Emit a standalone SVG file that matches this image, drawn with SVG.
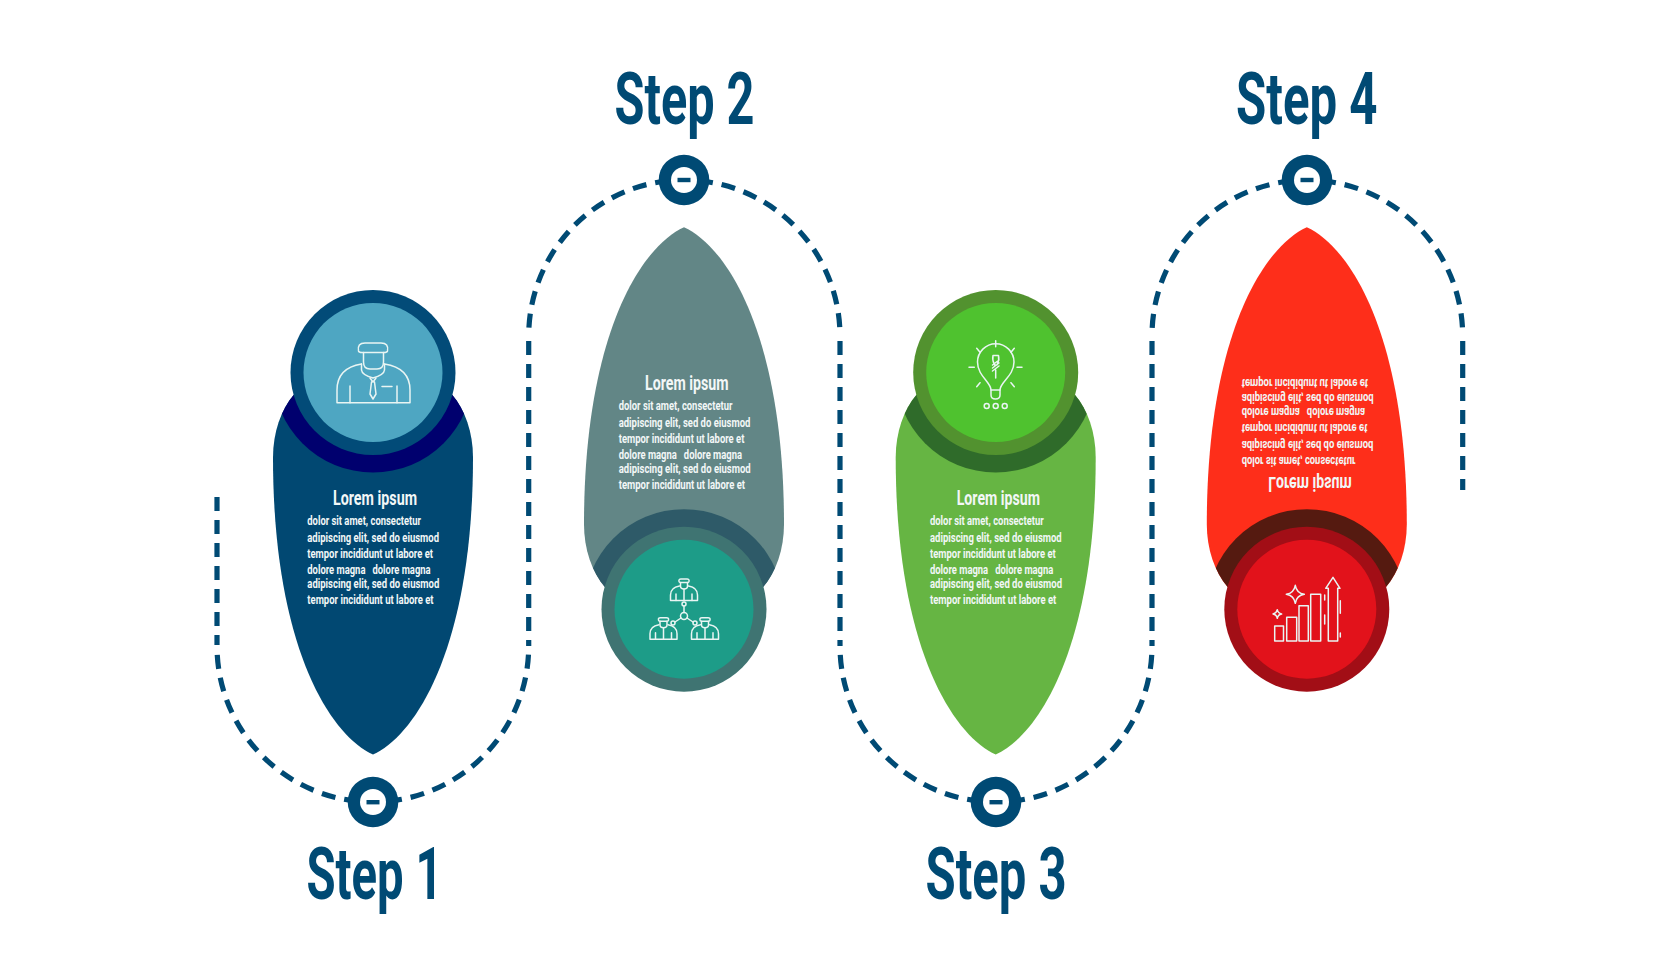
<svg xmlns="http://www.w3.org/2000/svg" width="1680" height="980" viewBox="0 0 1680 980">
<style>
text{font-family:Roboto,"Liberation Sans",sans-serif;font-weight:700}
.step{font-size:72px;fill:#004a74;text-anchor:start}
.t{font-size:21px;fill:#f2f7f7}
.b{font-size:13.5px;fill:#f2f7f7}
.dash{fill:none;stroke:#004a74;stroke-width:5.2;stroke-dasharray:14 9}
.from{stroke-dashoffset:-15}
.dot{fill:#004a74}
.hole{fill:#fff}
.ic{fill:none;stroke:#e9f5f3;stroke-width:1.5;stroke-linecap:round;stroke-linejoin:round}
</style>
<defs>
<path id="blade" d="M0,-382 C-44,-362 -100,-272 -100,-85 C-100,-60 -92,-37 -79,-22 L79,-22 C92,-37 100,-60 100,-85 C100,-272 44,-362 0,-382Z"/>
<clipPath id="bc"><use href="#blade"/></clipPath>
<g id="mini" class="ic">
<path d="M-5,2.5 Q-5.5,0 -3,0 H3 Q5.5,0 5,2.5 Q5,3.5 3,3.5 H-3 Q-5,3.5 -5,2.5Z"/>
<path d="M-3.5,3.5 V7 Q-3.5,10 0,10 Q3.5,10 3.5,7 V3.5"/>
<path d="M-4.5,7 Q-13.5,8.5 -13.5,16 V21.5 H13.5 V16 Q13.5,8.5 4.5,7"/>
<path d="M-8,15 V21.5 M8,15 V21.5 M0,10 V21.5"/>
</g>
</defs>
<rect width="1680" height="980" fill="#fff"/>

<g id="connectors">
<path class="dash from" d="M373,802 A156,156 0 0 1 217,646"/>
<path class="dash" d="M217,497 V645"/>
<path class="dash from" d="M373,802 A155.7,155.7 0 0 0 528.7,646"/>
<path class="dash" d="M528.7,341 V646"/>
<path class="dash from" d="M684,180 A155.3,156 0 0 0 528.7,336"/>
<path class="dash from" d="M684,180 A156,156 0 0 1 840,336"/>
<path class="dash" d="M840,341 V646"/>
<path class="dash from" d="M996,802 A156,156 0 0 1 840,646"/>
<path class="dash from" d="M996,802 A156,156 0 0 0 1152,646"/>
<path class="dash" d="M1152,341 V646"/>
<path class="dash from" d="M1307,180 A155,156 0 0 0 1152,336"/>
<path class="dash from" d="M1307,180 A155.7,156 0 0 1 1462.7,336"/>
<path class="dash" d="M1462.7,341 V490"/>
</g>

<g id="node1">
<use href="#blade" transform="translate(373,372.5) scale(1,-1)" fill="#014872"/>
<g transform="translate(373,372.5) scale(1,-1)"><circle r="100" fill="#00006e" clip-path="url(#bc)"/></g>
<circle cx="373" cy="372.5" r="82.5" fill="#024b78"/>
<circle cx="373" cy="372.5" r="69.5" fill="#4ea6c2"/>
<g class="ic">
<path d="M358.5,351 Q357,343 365,343 H381 Q389,343 387.5,351 Q387,352.5 384,352.5 H362 Q359,352.5 358.5,351Z"/>
<path d="M363.5,352.5 V362 Q363.5,369 370,369 H377 Q383.5,369 383.5,362 V352.5"/>
<path d="M361.5,364 V370 Q362,375 373,378 Q384,375 384.5,370 V364"/>
<path d="M361.5,364 Q337,368 337,390 V402.7 H410 V390 Q410,368 384.5,364"/>
<path d="M350,386 V402.7 M397,386 V402.7 M382,386.5 H392"/>
<path d="M370,378 L373,382 L376,378 M371.5,382 L370,394 L373,399 L376,394 L374.5,382"/>
</g>
<text class="t" x="333" y="505" textLength="84" lengthAdjust="spacingAndGlyphs">Lorem ipsum</text>
<text class="b" x="307.3" y="525" textLength="113.7" lengthAdjust="spacingAndGlyphs">dolor sit amet, consectetur</text>
<text class="b" x="307.3" y="541.7" textLength="131.7" lengthAdjust="spacingAndGlyphs">adipiscing elit, sed do eiusmod</text>
<text class="b" x="307.3" y="558.3" textLength="125.7" lengthAdjust="spacingAndGlyphs">tempor incididunt ut labore et</text>
<text class="b" x="307.3" y="574.3" textLength="123.3" lengthAdjust="spacingAndGlyphs" xml:space="preserve">dolore magna   dolore magna</text>
<text class="b" x="307.3" y="587.7" textLength="132" lengthAdjust="spacingAndGlyphs">adipiscing elit, sed do eiusmod</text>
<text class="b" x="307.3" y="604.3" textLength="126.3" lengthAdjust="spacingAndGlyphs">tempor incididunt ut labore et</text>
</g>

<g id="node2">
<use href="#blade" transform="translate(684,609.2)" fill="#628686"/>
<g transform="translate(684,609.2)"><circle r="100" fill="#2e5a68" clip-path="url(#bc)"/></g>
<circle cx="684" cy="609.2" r="82.5" fill="#3f7472"/>
<circle cx="684" cy="609.2" r="69.5" fill="#1d9c88"/>
<use href="#mini" x="684" y="579"/>
<use href="#mini" x="663.5" y="617.7"/>
<use href="#mini" x="705" y="617.7"/>
<g class="ic">
<circle cx="684" cy="616" r="3.5"/><circle cx="684" cy="604" r="2"/><circle cx="673" cy="623" r="2"/><circle cx="695" cy="623" r="2"/>
<path d="M684,606 V612.5 M675,622 L681,618 M693,622 L687,618"/>
</g>
<text class="t" x="645" y="390" textLength="83.5" lengthAdjust="spacingAndGlyphs">Lorem ipsum</text>
<text class="b" x="618.7" y="410" textLength="113.7" lengthAdjust="spacingAndGlyphs">dolor sit amet, consectetur</text>
<text class="b" x="618.7" y="426.7" textLength="131.7" lengthAdjust="spacingAndGlyphs">adipiscing elit, sed do eiusmod</text>
<text class="b" x="618.7" y="442.7" textLength="125.7" lengthAdjust="spacingAndGlyphs">tempor incididunt ut labore et</text>
<text class="b" x="618.7" y="459.3" textLength="123.3" lengthAdjust="spacingAndGlyphs" xml:space="preserve">dolore magna   dolore magna</text>
<text class="b" x="618.7" y="472.7" textLength="132" lengthAdjust="spacingAndGlyphs">adipiscing elit, sed do eiusmod</text>
<text class="b" x="618.7" y="489.3" textLength="126.3" lengthAdjust="spacingAndGlyphs">tempor incididunt ut labore et</text>
</g>

<g id="node3">
<use href="#blade" transform="translate(995.7,372.5) scale(1,-1)" fill="#66b543"/>
<g transform="translate(995.7,372.5) scale(1,-1)"><circle r="100" fill="#2f6b2a" clip-path="url(#bc)"/></g>
<circle cx="995.7" cy="372.5" r="82.5" fill="#52922f"/>
<circle cx="995.7" cy="372.5" r="69.5" fill="#4fc22f"/>
<g class="ic">
<path d="M991,390 C991,382 977.5,376 977.5,362 A18.2,18.2 0 1 1 1014,362 C1014,376 1000,382 1000,390"/>
<path d="M991,390 H1000 V395 Q1000,399 995.5,399 Q991,399 991,395Z"/>
<circle cx="986.7" cy="406" r="2.5"/><circle cx="995.7" cy="406" r="2.5"/><circle cx="1004.7" cy="406" r="2.5"/>
<path d="M995.7,340.7 V346.7 M969,367.3 H974.3 M1017,367.3 H1022 M976.7,348.3 L980,352.3 M1014.3,348.3 L1011,352.3 M976.7,386.7 L980,382.7 M1014.3,386.7 L1011,382.7"/>
<path d="M995.7,378 V370 M993,355.5 H998.5 Q999.5,360 997,365 H994.5 Q992,360 993,355.5Z M992.5,365 L999,360 M992.5,368 L999,363 M992.5,371 L999,366"/>
</g>
<text class="t" x="956.7" y="505" textLength="83.3" lengthAdjust="spacingAndGlyphs">Lorem ipsum</text>
<text class="b" x="930" y="525" textLength="113.7" lengthAdjust="spacingAndGlyphs">dolor sit amet, consectetur</text>
<text class="b" x="930" y="541.7" textLength="131.7" lengthAdjust="spacingAndGlyphs">adipiscing elit, sed do eiusmod</text>
<text class="b" x="930" y="558.3" textLength="125.7" lengthAdjust="spacingAndGlyphs">tempor incididunt ut labore et</text>
<text class="b" x="930" y="574.3" textLength="123.3" lengthAdjust="spacingAndGlyphs" xml:space="preserve">dolore magna   dolore magna</text>
<text class="b" x="930" y="587.7" textLength="132" lengthAdjust="spacingAndGlyphs">adipiscing elit, sed do eiusmod</text>
<text class="b" x="930" y="604.3" textLength="126.3" lengthAdjust="spacingAndGlyphs">tempor incididunt ut labore et</text>
</g>

<g id="node4">
<use href="#blade" transform="translate(1306.8,609.2)" fill="#fe2e1a"/>
<g transform="translate(1306.8,609.2)"><circle r="100" fill="#551a10" clip-path="url(#bc)"/></g>
<circle cx="1306.8" cy="609.2" r="82.5" fill="#a20e16"/>
<circle cx="1306.8" cy="609.2" r="69.5" fill="#e2121b"/>
<g class="ic">
<rect x="1274.7" y="626" width="8.8" height="15"/>
<rect x="1286.7" y="617.3" width="10" height="23.7"/>
<rect x="1299" y="605.7" width="9.3" height="35.3"/>
<rect x="1310.7" y="594.3" width="10" height="46.7"/>
<path d="M1328.3,641 V588.3 H1325.7 L1333,577.3 L1340,588.3 H1337.7 V641 Z"/>
<path d="M1295.3,585.3 Q1296.5,593 1304.3,594.3 Q1296.5,595.6 1295.3,603.3 Q1294,595.6 1286.3,594.3 Q1294,593 1295.3,585.3Z"/>
<path d="M1277.3,609.7 Q1278,613.3 1281.6,614 Q1278,614.7 1277.3,618.3 Q1276.6,614.7 1273,614 Q1276.6,613.3 1277.3,609.7Z"/>
<path d="M1324.7,595 V600 M1324.7,615 V624 M1340.3,600.7 V613.3 M1340.3,633 V637"/>
</g>
<g transform="matrix(1 0 0 -1 0 982)">
<text class="t" x="1268.3" y="505.3" textLength="83.4" lengthAdjust="spacingAndGlyphs">Lorem ipsum</text>
<text class="b" x="1241.7" y="525" textLength="113.7" lengthAdjust="spacingAndGlyphs">dolor sit amet, consectetur</text>
<text class="b" x="1241.7" y="541.5" textLength="131.7" lengthAdjust="spacingAndGlyphs">adipiscing elit, sed do eiusmod</text>
<text class="b" x="1241.7" y="558" textLength="125.7" lengthAdjust="spacingAndGlyphs">tempor incididunt ut labore et</text>
<text class="b" x="1241.7" y="574.3" textLength="123.3" lengthAdjust="spacingAndGlyphs" xml:space="preserve">dolore magna   dolore magna</text>
<text class="b" x="1241.7" y="587.7" textLength="132" lengthAdjust="spacingAndGlyphs">adipiscing elit, sed do eiusmod</text>
<text class="b" x="1241.7" y="603.5" textLength="126.3" lengthAdjust="spacingAndGlyphs">tempor incididunt ut labore et</text>
</g>
</g>

<g id="marker1"><circle class="dot" cx="373" cy="802" r="25.3"/><circle class="hole" cx="373" cy="802" r="13"/><rect class="dot" x="366.5" y="800" width="13" height="4.4"/></g>
<g id="marker2"><circle class="dot" cx="684" cy="180" r="25.3"/><circle class="hole" cx="684" cy="180" r="13"/><rect class="dot" x="677.5" y="177.8" width="13" height="4.4"/></g>
<g id="marker3"><circle class="dot" cx="996" cy="802" r="25.3"/><circle class="hole" cx="996" cy="802" r="13"/><rect class="dot" x="989.5" y="800" width="13" height="4.4"/></g>
<g id="marker4"><circle class="dot" cx="1307" cy="180" r="25.3"/><circle class="hole" cx="1307" cy="180" r="13"/><rect class="dot" x="1300.5" y="177.8" width="13" height="4.4"/></g>

<g id="labels">
<text class="step" x="306.5" y="899" textLength="136" lengthAdjust="spacingAndGlyphs">Step 1</text>
<text class="step" x="614.5" y="124" textLength="140" lengthAdjust="spacingAndGlyphs">Step 2</text>
<text class="step" x="925.5" y="899" textLength="141" lengthAdjust="spacingAndGlyphs">Step 3</text>
<text class="step" x="1236" y="124" textLength="141.5" lengthAdjust="spacingAndGlyphs">Step 4</text>
</g>
</svg>
